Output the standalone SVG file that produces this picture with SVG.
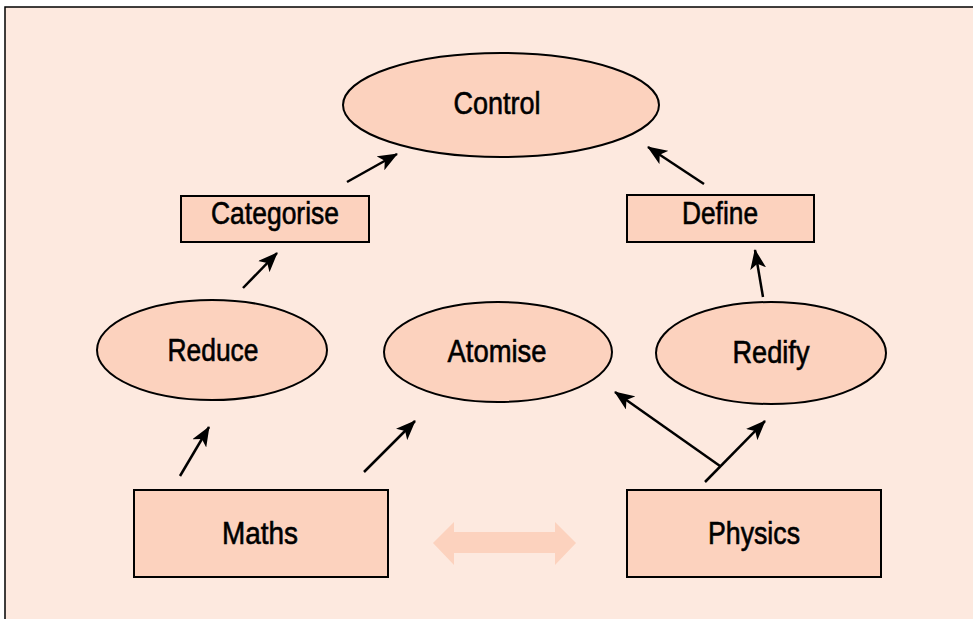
<svg xmlns="http://www.w3.org/2000/svg" width="973" height="619" viewBox="0 0 973 619">
<defs>
<style>
.bg{fill:#FDE9DF}
.n{fill:#FCD2BE;stroke:#000;stroke-width:2}
.t{font-family:"Liberation Sans Narrow","Liberation Sans",Arial,sans-serif;font-size:31px;fill:#000;stroke:#000;stroke-width:0.6;text-anchor:middle;dominant-baseline:central}
.c{stroke:#000;stroke-width:2.5;fill:none;marker-end:url(#ah)}
</style>
<marker id="ah" viewBox="0 0 20 16" refX="19" refY="8" markerWidth="20" markerHeight="16" markerUnits="userSpaceOnUse" orient="auto">
<path d="M0,0 L20,8 L0,16 L5,8 Z" fill="#000"/>
</marker>
</defs>
<rect class="bg" x="5" y="7" width="975" height="620" stroke="#000" stroke-width="1.5"/>
<g id="edges">
<line class="c" x1="347" y1="182" x2="397" y2="154"/>
<line class="c" x1="704" y1="184" x2="648" y2="147"/>
<line class="c" x1="243" y1="288" x2="277" y2="253"/>
<line class="c" x1="763" y1="297" x2="755" y2="250"/>
<line class="c" x1="180" y1="476" x2="209" y2="427"/>
<line class="c" x1="364" y1="472" x2="415" y2="421"/>
<line class="c" x1="705" y1="482" x2="765" y2="421"/>
<line class="c" x1="720" y1="466" x2="615" y2="392"/>
<path d="M433,543 L454,522 L454,532 L555,532 L555,522 L576,543 L555,565 L555,553 L454,553 L454,565 Z" fill="#FCD2BE"/>
</g>
<g id="control"><ellipse class="n" cx="501" cy="105" rx="158" ry="52"/><text class="t" x="497" y="103" textLength="87" lengthAdjust="spacingAndGlyphs">Control</text></g>
<g id="categorise"><rect class="n" x="181" y="196" width="188" height="46"/><text class="t" x="275" y="213" textLength="128" lengthAdjust="spacingAndGlyphs">Categorise</text></g>
<g id="define"><rect class="n" x="627" y="195" width="187" height="47"/><text class="t" x="720" y="213" textLength="76" lengthAdjust="spacingAndGlyphs">Define</text></g>
<g id="reduce"><ellipse class="n" cx="212" cy="350" rx="115" ry="50"/><text class="t" x="213" y="350" textLength="91" lengthAdjust="spacingAndGlyphs">Reduce</text></g>
<g id="atomise"><ellipse class="n" cx="498" cy="352" rx="114" ry="50"/><text class="t" x="497" y="351" textLength="99" lengthAdjust="spacingAndGlyphs">Atomise</text></g>
<g id="redify"><ellipse class="n" cx="771" cy="353" rx="115" ry="51"/><text class="t" x="771" y="352" textLength="77" lengthAdjust="spacingAndGlyphs">Redify</text></g>
<g id="maths"><rect class="n" x="134" y="490" width="254" height="87"/><text class="t" x="260" y="533" textLength="76" lengthAdjust="spacingAndGlyphs">Maths</text></g>
<g id="physics"><rect class="n" x="627" y="490" width="254" height="87"/><text class="t" x="754" y="533" textLength="92" lengthAdjust="spacingAndGlyphs">Physics</text></g>
</svg>
